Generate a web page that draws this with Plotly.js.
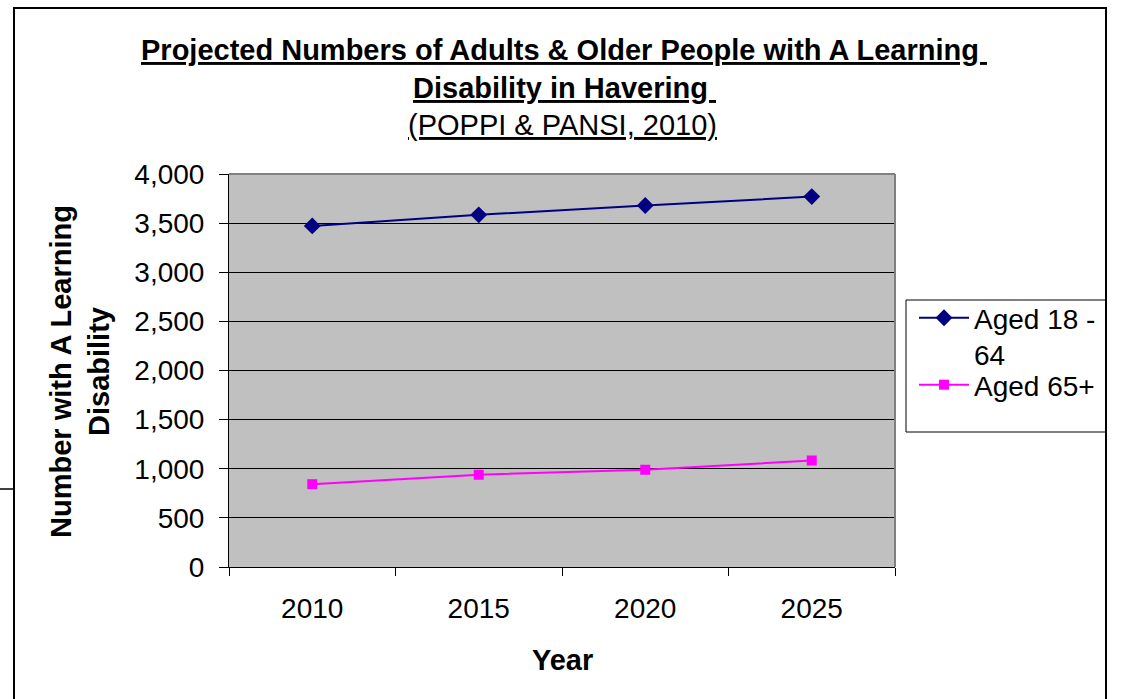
<!DOCTYPE html>
<html>
<head>
<meta charset="utf-8">
<script src="https://cdn.plot.ly/plotly-3.0.1.min.js"></script>
<style>
  html, body { margin: 0; padding: 0; background: #ffffff; }
  #chart { width: 1122px; height: 699px; }
</style>
</head>
<body>
<div id="chart"></div>
<script>
// Projected counts of people with a learning disability, by age band
const years = ['2010', '2015', '2020', '2025'];
const aged18to64 = [3472, 3584, 3679, 3770];
const aged65plus = [843, 939, 990, 1084];
const seriesNames = ['Aged 18 -<br>64', 'Aged 65+'];
const yTicks = [0, 500, 1000, 1500, 2000, 2500, 3000, 3500, 4000];

const FONT = '"Liberation Sans", Arial, sans-serif';

// Plot area in pixels
const W = 1122, H = 699;
const L = 229, R = 895, T = 174, B = 567;
const px = x => (x - L) / (R - L);
const py = y => (B - y) / (B - T);

const traces = [
  {
    x: years, y: aged18to64, name: seriesNames[0], legend: 'legend',
    type: 'scatter', mode: 'lines+markers',
    line: { color: '#000080', width: 2 },
    marker: { symbol: 'diamond', size: 13, color: '#000080' }
  },
  {
    x: years, y: aged65plus, name: seriesNames[1], legend: 'legend2',
    type: 'scatter', mode: 'lines+markers',
    line: { color: '#FF00FF', width: 2 },
    marker: { symbol: 'square', size: 10, color: '#FF00FF' }
  }
];

const legendStyle = {
  xanchor: 'left', yanchor: 'top',
  bgcolor: 'rgba(0,0,0,0)', borderwidth: 0,
  font: { family: FONT, size: 28, color: '#000000' },
  valign: 'top', itemwidth: 50
};

const layout = {
  width: W, height: H,
  margin: { l: L, r: W - R, t: T, b: H - B, pad: 0 },
  paper_bgcolor: '#ffffff',
  plot_bgcolor: '#C0C0C0',
  font: { family: FONT, color: '#000000', size: 28 },
  showlegend: true,
  legend: Object.assign({ x: px(914), y: py(293) }, legendStyle),
  legend2: Object.assign({ x: px(914), y: py(360) }, legendStyle),
  xaxis: {
    type: 'category', categoryorder: 'array', categoryarray: years,
    range: [-0.5, 3.5], fixedrange: true,
    tickson: 'boundaries', ticks: 'outside', ticklen: 8, tickwidth: 1, tickcolor: '#000000',
    showline: true, linecolor: '#000000', linewidth: 1,
    showgrid: false, zeroline: false,
    tickfont: { family: FONT, size: 28, color: '#000000' },
    ticklabelstandoff: 16
  },
  yaxis: {
    range: [0, 4000], tickvals: yTicks, tickformat: ',d', fixedrange: true,
    ticks: 'outside', ticklen: 9, tickwidth: 1, tickcolor: '#000000',
    showline: true, linecolor: '#000000', linewidth: 1,
    showgrid: true, gridcolor: '#000000', gridwidth: 1, zeroline: false,
    tickfont: { family: FONT, size: 28, color: '#000000' },
    ticklabelstandoff: 9
  },
  annotations: [
    {
      text: '<b><u>Projected Numbers of Adults &amp; Older People with A Learning </u></b>',
      xref: 'paper', yref: 'paper', x: px(564), y: py(50),
      xanchor: 'center', yanchor: 'middle', showarrow: false,
      font: { family: FONT, size: 29, color: '#000000' }
    },
    {
      text: '<b><u>Disability in Havering </u></b>',
      xref: 'paper', yref: 'paper', x: px(564), y: py(88),
      xanchor: 'center', yanchor: 'middle', showarrow: false,
      font: { family: FONT, size: 29, color: '#000000' }
    },
    {
      text: '<u>(POPPI &amp; PANSI, 2010)</u>',
      xref: 'paper', yref: 'paper', x: px(562), y: py(125),
      xanchor: 'center', yanchor: 'middle', showarrow: false,
      font: { family: FONT, size: 29, color: '#000000' }
    },
    {
      text: '<b>Number with A Learning<br>Disability</b>',
      xref: 'paper', yref: 'paper', x: px(80), y: py(372),
      xanchor: 'center', yanchor: 'middle', showarrow: false, textangle: -90,
      font: { family: FONT, size: 29, color: '#000000' }
    },
    {
      text: '<b>Year</b>',
      xref: 'paper', yref: 'paper', x: px(562), y: py(660),
      xanchor: 'center', yanchor: 'middle', showarrow: false,
      font: { family: FONT, size: 29, color: '#000000' }
    }
  ],
  shapes: [
    // grey border on the top and right of the plot area
    { type: 'line', xref: 'paper', yref: 'paper', x0: 0, x1: 1, y0: 1, y1: 1,
      line: { color: '#808080', width: 2 }, layer: 'above' },
    { type: 'line', xref: 'paper', yref: 'paper', x0: 1, x1: 1, y0: 0, y1: 1,
      line: { color: '#808080', width: 2 }, layer: 'above' },
    // legend box
    { type: 'rect', xref: 'paper', yref: 'paper',
      x0: px(906), x1: px(1106), y0: py(432), y1: py(300),
      line: { color: '#000000', width: 1 }, fillcolor: 'rgba(0,0,0,0)', layer: 'above' },
    // outer chart frame
    { type: 'rect', xref: 'paper', yref: 'paper',
      x0: px(14), x1: px(1106), y0: py(710), y1: py(8),
      line: { color: '#000000', width: 2 }, fillcolor: 'rgba(0,0,0,0)', layer: 'above' },
    // short rule at the far left
    { type: 'line', xref: 'paper', yref: 'paper',
      x0: px(0), x1: px(14), y0: py(489), y1: py(489),
      line: { color: '#000000', width: 1.5 }, layer: 'above' }
  ]
};

Plotly.newPlot('chart', traces, layout, { displayModeBar: false, staticPlot: true });
</script>
</body>
</html>
